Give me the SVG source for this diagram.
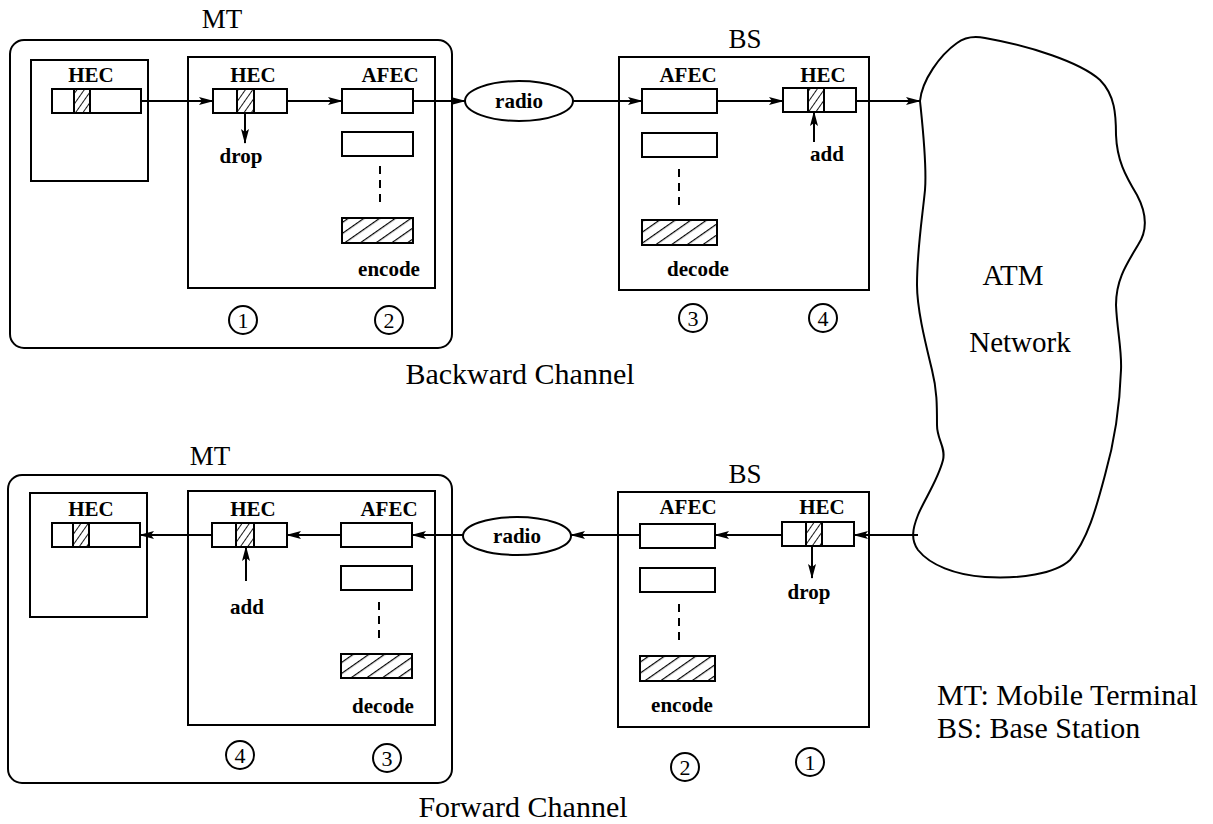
<svg xmlns="http://www.w3.org/2000/svg" width="1213" height="824" viewBox="0 0 1213 824">
<style>
.bx{fill:none;stroke:#000;stroke-width:2}
.wb{fill:#fff;stroke:#000;stroke-width:2}
.hb{fill:url(#hatch);stroke:#000;stroke-width:2}
.hc{fill:url(#hatch2);stroke:#000;stroke-width:2}
.ar{fill:none;stroke:#000;stroke-width:2;marker-end:url(#ah)}
.dash{stroke:#000;stroke-width:2;stroke-dasharray:8 6}
.lb{font-family:"Liberation Serif",serif;font-weight:bold;font-size:21px;text-anchor:middle}
.bg{font-family:"Liberation Serif",serif;font-size:27px;text-anchor:middle}
.nt{font-family:"Liberation Serif",serif;font-size:29px;text-anchor:middle}
.ch{font-family:"Liberation Serif",serif;font-size:30px;text-anchor:middle}
.lg{font-family:"Liberation Serif",serif;font-size:30px}
.cn{font-family:"Liberation Serif",serif;font-size:22px;text-anchor:middle}
</style>
<defs>
<marker id="ah" markerWidth="15" markerHeight="10" refX="14" refY="5" orient="auto" markerUnits="userSpaceOnUse"><path d="M0,1 L15,5 L0,9 L3,5 Z" fill="#000"/></marker>
<pattern id="hatch" width="9" height="9" patternUnits="userSpaceOnUse" patternTransform="rotate(55)"><line x1="0" y1="0" x2="0" y2="9" stroke="#000" stroke-width="2.4"/></pattern>
<pattern id="hatch2" width="6" height="6" patternUnits="userSpaceOnUse" patternTransform="rotate(35)"><line x1="0" y1="0" x2="0" y2="6" stroke="#000" stroke-width="1.8"/></pattern>
</defs>
<rect width="1213" height="824" fill="#fff"/>

<!-- Upper: Backward channel -->
<g id="mt-up">
<text class="bg" x="222" y="28">MT</text>
<rect class="bx" x="10" y="40" width="442" height="308" rx="14"/>
</g>
<g id="mt-up-hec">
<rect class="bx" x="31" y="60" width="117" height="121"/>
<text class="lb" x="91" y="82">HEC</text>
<rect class="wb" x="52" y="89" width="89" height="24"/>
<rect class="hc" x="74" y="89" width="16" height="24"/>
</g>
<g id="mt-up-proc">
<rect class="bx" x="188" y="57" width="247" height="231"/>
<text class="lb" x="253" y="82">HEC</text>
<rect class="wb" x="213" y="89" width="74" height="24"/>
<rect class="hc" x="237" y="89" width="17" height="24"/>
<text class="lb" x="241" y="163">drop</text>
<text class="lb" x="390" y="82">AFEC</text>
<rect class="wb" x="342" y="89" width="71" height="24"/>
<rect class="wb" x="342" y="132" width="71" height="24"/>
<line class="dash" x1="380" y1="166" x2="380" y2="208"/>
<rect class="hb" x="342" y="218" width="71" height="25"/>
<text class="lb" x="389" y="276">encode</text>
</g>
<g id="num-up">
<circle class="bx" cx="243" cy="320" r="14"/><text class="cn" x="243" y="328">1</text>
<circle class="bx" cx="389" cy="320" r="14"/><text class="cn" x="389" y="328">2</text>
<circle class="bx" cx="693" cy="318" r="14"/><text class="cn" x="693" y="326">3</text>
<circle class="bx" cx="823" cy="318" r="14"/><text class="cn" x="823" y="326">4</text>
</g>
<g id="radio-up">
<ellipse class="wb" cx="519" cy="101" rx="54" ry="20"/>
<text class="lb" x="519" y="108">radio</text>
</g>
<g id="bs-up">
<text class="bg" x="745" y="48">BS</text>
<rect class="bx" x="619" y="57" width="250" height="233"/>
<text class="lb" x="688" y="82">AFEC</text>
<rect class="wb" x="642" y="89" width="75" height="24"/>
<rect class="wb" x="642" y="133" width="75" height="24"/>
<line class="dash" x1="679" y1="169" x2="679" y2="211"/>
<rect class="hb" x="642" y="220" width="75" height="25"/>
<text class="lb" x="698" y="276">decode</text>
<text class="lb" x="823" y="82">HEC</text>
<rect class="wb" x="783" y="88" width="73" height="24"/>
<rect class="hc" x="808" y="88" width="16" height="24"/>
<text class="lb" x="827" y="161">add</text>
</g>
<text class="ch" x="520" y="384" id="lbl-back">Backward Channel</text>

<!-- ATM network -->
<g id="atm">
<path class="bx" d="M920,101 C922,80 940,55 957,43 C965,37 975,36 985,38 C1030,46 1080,62 1100,80 C1115,95 1116,115 1116,135 C1117,160 1125,175 1137,195 C1146,212 1148,230 1138,245 C1126,265 1116,280 1116,305 C1117,330 1122,350 1121,370 C1120,400 1115,440 1105,475 C1097,505 1088,540 1070,560 C1055,574 1020,579 985,577 C955,575 930,565 918,550 C911,540 912,530 918,515 C924,500 938,480 943,460 C946,447 937,440 937,425 C937,405 937,390 932,370 C926,345 917,310 917,285 C917,250 922,220 925,190 C927,165 923,130 920,101 Z"/>
<text class="nt" x="1013" y="285">ATM</text>
<text class="nt" x="1020" y="352">Network</text>
</g>

<!-- Lower: Forward channel -->
<g id="mt-dn">
<text class="bg" x="210" y="465">MT</text>
<rect class="bx" x="8" y="475" width="444" height="308" rx="14"/>
</g>
<g id="mt-dn-hec">
<rect class="bx" x="30" y="493" width="117" height="124"/>
<text class="lb" x="91" y="516">HEC</text>
<rect class="wb" x="52" y="523" width="88" height="24"/>
<rect class="hc" x="73" y="523" width="16" height="24"/>
</g>
<g id="mt-dn-proc">
<rect class="bx" x="188" y="491" width="247" height="234"/>
<text class="lb" x="253" y="516">HEC</text>
<rect class="wb" x="212" y="523" width="75" height="24"/>
<rect class="hc" x="236" y="523" width="18" height="24"/>
<text class="lb" x="247" y="614">add</text>
<text class="lb" x="389" y="516">AFEC</text>
<rect class="wb" x="341" y="523" width="71" height="24"/>
<rect class="wb" x="341" y="566" width="71" height="24"/>
<line class="dash" x1="379" y1="602" x2="379" y2="644"/>
<rect class="hb" x="341" y="654" width="71" height="24"/>
<text class="lb" x="383" y="713">decode</text>
</g>
<g id="num-dn">
<circle class="bx" cx="240" cy="755" r="14"/><text class="cn" x="240" y="763">4</text>
<circle class="bx" cx="387" cy="758" r="14"/><text class="cn" x="387" y="766">3</text>
<circle class="bx" cx="685" cy="767" r="14"/><text class="cn" x="685" y="775">2</text>
<circle class="bx" cx="810" cy="762" r="14"/><text class="cn" x="810" y="770">1</text>
</g>
<g id="radio-dn">
<ellipse class="wb" cx="517" cy="536" rx="54" ry="19"/>
<text class="lb" x="517" y="543">radio</text>
</g>
<g id="bs-dn">
<text class="bg" x="745" y="483">BS</text>
<rect class="bx" x="618" y="492" width="251" height="235"/>
<text class="lb" x="688" y="514">AFEC</text>
<rect class="wb" x="640" y="524" width="75" height="24"/>
<rect class="wb" x="640" y="568" width="75" height="24"/>
<line class="dash" x1="679" y1="604" x2="679" y2="646"/>
<rect class="hb" x="640" y="656" width="75" height="25"/>
<text class="lb" x="682" y="712">encode</text>
<text class="lb" x="822" y="514">HEC</text>
<rect class="wb" x="782" y="522" width="72" height="24"/>
<rect class="hc" x="806" y="522" width="16" height="24"/>
<text class="lb" x="809" y="599">drop</text>
</g>
<text class="ch" x="523" y="817" id="lbl-fwd">Forward Channel</text>

<g id="legend">
<text class="lg" x="937" y="705">MT: Mobile Terminal</text>
<text class="lg" x="937" y="738">BS: Base Station</text>
</g>

<g id="connectors">
<line class="ar" x1="141" y1="101" x2="213" y2="101"/>
<line class="ar" x1="287" y1="101" x2="342" y2="101"/>
<line class="ar" x1="413" y1="101" x2="465" y2="101"/>
<line class="ar" x1="573" y1="101" x2="642" y2="101"/>
<line class="ar" x1="717" y1="101" x2="783" y2="101"/>
<line class="ar" x1="856" y1="101" x2="920" y2="101"/>
<line class="ar" x1="245" y1="113" x2="245" y2="143"/>
<line class="ar" x1="814" y1="142" x2="814" y2="112"/>
<line class="ar" x1="918" y1="535" x2="854" y2="535"/>
<line class="ar" x1="782" y1="535" x2="715" y2="535"/>
<line class="ar" x1="640" y1="535" x2="571" y2="535"/>
<line class="ar" x1="463" y1="535" x2="412" y2="535"/>
<line class="ar" x1="341" y1="535" x2="287" y2="535"/>
<line class="ar" x1="212" y1="535" x2="140" y2="535"/>
<line class="ar" x1="812" y1="546" x2="812" y2="578"/>
<line class="ar" x1="246" y1="581" x2="246" y2="547"/>
</g>
</svg>
